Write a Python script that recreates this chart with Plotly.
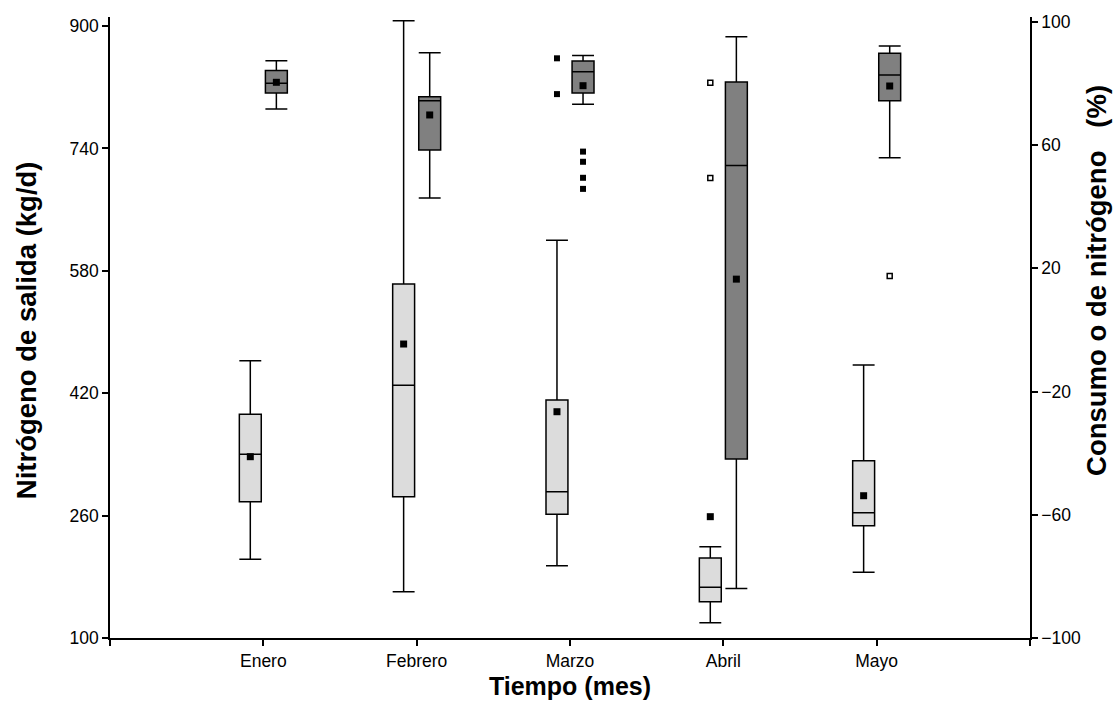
import plotly.graph_objects as go

# Months on the time axis
months = ["Enero", "Febrero", "Marzo", "Abril", "Mayo"]

# Nitrógeno de salida (kg/d) - box statistics per month
sal_lower = [202.9, 160.5, 194.5, 120.0, 185.9]
sal_q1 = [278.2, 284.7, 261.7, 147.5, 246.8]
sal_median = [340.1, 430.3, 291.2, 166.3, 263.8]
sal_q3 = [392.4, 562.7, 411.1, 204.6, 331.8]
sal_upper = [462.5, 906.9, 620.0, 219.3, 456.9]
sal_mean = [337.0, 484.3, 395.8, 258.6, 286.0]

# Outliers of the output nitrogen series
sal_out_month = ["Marzo", "Marzo"]
sal_out_value = [857.8, 811.0]
sal_ext_month = ["Abril", "Abril"]
sal_ext_value = [825.9, 701.3]

# Consumo de nitrógeno (%) - box statistics per month
con_lower = [71.7, 42.8, 73.3, -83.9, 55.9]
con_q1 = [76.9, 58.4, 76.9, -41.9, 74.4]
con_median = [80.1, 74.4, 83.8, 53.4, 82.8]
con_q3 = [84.2, 75.7, 87.3, 80.5, 89.8]
con_upper = [87.4, 90.0, 89.1, 95.2, 92.2]
con_mean = [80.4, 69.8, 79.3, 16.5, 79.2]

# Outliers of the consumption series
con_out_month = ["Marzo", "Marzo", "Marzo", "Marzo"]
con_out_value = [57.9, 54.6, 49.4, 45.8]
con_ext_month = ["Mayo"]
con_ext_value = [17.5]

# Layout of boxes around each month position
OFFSET = 0.085
BOX_W = 0.143
pos = {m: i + 1 for i, m in enumerate(months)}
x_sal = [pos[m] - OFFSET for m in months]
x_con = [pos[m] + OFFSET for m in months]

LINE = dict(color="black", width=1.5)

fig = go.Figure()

fig.add_trace(go.Box(
    x=x_sal, q1=sal_q1, median=sal_median, q3=sal_q3,
    lowerfence=sal_lower, upperfence=sal_upper,
    width=BOX_W, whiskerwidth=1, fillcolor="#dcdcdc", line=LINE,
    boxpoints=False, showlegend=False, hoverinfo="skip", yaxis="y",
))
fig.add_trace(go.Box(
    x=x_con, q1=con_q1, median=con_median, q3=con_q3,
    lowerfence=con_lower, upperfence=con_upper,
    width=BOX_W, whiskerwidth=1, fillcolor="#808080", line=LINE,
    boxpoints=False, showlegend=False, hoverinfo="skip", yaxis="y2",
))

mean_marker = dict(symbol="square", size=7, color="black")
out_marker = dict(symbol="square", size=6, color="black")
ext_marker = dict(symbol="square-open", size=5, color="black", line=dict(width=1.5, color="black"))

# Means
fig.add_trace(go.Scatter(x=x_sal, y=sal_mean, mode="markers", marker=mean_marker,
                         showlegend=False, hoverinfo="skip", yaxis="y"))
fig.add_trace(go.Scatter(x=x_con, y=con_mean, mode="markers", marker=mean_marker,
                         showlegend=False, hoverinfo="skip", yaxis="y2"))

# Outliers and extremes
fig.add_trace(go.Scatter(x=[pos[m] - OFFSET for m in sal_out_month], y=sal_out_value,
                         mode="markers", marker=out_marker, showlegend=False,
                         hoverinfo="skip", yaxis="y"))
fig.add_trace(go.Scatter(x=[pos[m] - OFFSET for m in sal_ext_month], y=sal_ext_value,
                         mode="markers", marker=ext_marker, showlegend=False,
                         hoverinfo="skip", yaxis="y"))
fig.add_trace(go.Scatter(x=[pos[m] + OFFSET for m in con_out_month], y=con_out_value,
                         mode="markers", marker=out_marker, showlegend=False,
                         hoverinfo="skip", yaxis="y2"))
fig.add_trace(go.Scatter(x=[pos[m] + OFFSET for m in con_ext_month], y=con_ext_value,
                         mode="markers", marker=ext_marker, showlegend=False,
                         hoverinfo="skip", yaxis="y2"))

FONT = "Liberation Sans, Arial, sans-serif"
tick_font = dict(family=FONT, size=17.5, color="black")
x_title_font = dict(family=FONT, size=25, color="black")
y_title_font = dict(family=FONT, size=27.5, color="black")

axis_common = dict(
    showline=True, linecolor="black", linewidth=1.5,
    ticks="outside", ticklen=6, tickwidth=1.5, tickcolor="black",
    showgrid=False, zeroline=False, tickfont=tick_font, automargin=False,
)

fig.update_layout(
    width=1113, height=706,
    margin=dict(l=110, r=83, t=17, b=68),
    paper_bgcolor="white", plot_bgcolor="white",
    font=dict(family=FONT, color="black"),
    xaxis=dict(
        range=[0, 6],
        tickvals=[0] + list(pos.values()) + [6],
        ticktext=[""] + months + [""],
        title=dict(text="<b>Tiempo (mes)</b>", font=x_title_font, standoff=8),
        **axis_common,
    ),
    yaxis=dict(
        range=[100, 911.8],
        tickvals=[100, 260, 420, 580, 740, 900],
        **axis_common,
    ),
    yaxis2=dict(
        range=[-100, 101.6],
        tickvals=[-100, -60, -20, 20, 60, 100],
        overlaying="y", side="right",
        **axis_common,
    ),
    annotations=[
        dict(text="<b>Nitrógeno de salida (kg/d)</b>", textangle=-90,
             xref="paper", yref="paper", x=-0.09, y=0.496,
             xanchor="center", yanchor="middle", showarrow=False, font=y_title_font),
        dict(text="<b>Consumo o de nitrógeno\u00a0\u00a0\u00a0(%)</b>", textangle=-90,
             xref="paper", yref="paper", x=1.0728, y=0.5765,
             xanchor="center", yanchor="middle", showarrow=False, font=y_title_font),
    ],
)

fig.write_html("out.html")
